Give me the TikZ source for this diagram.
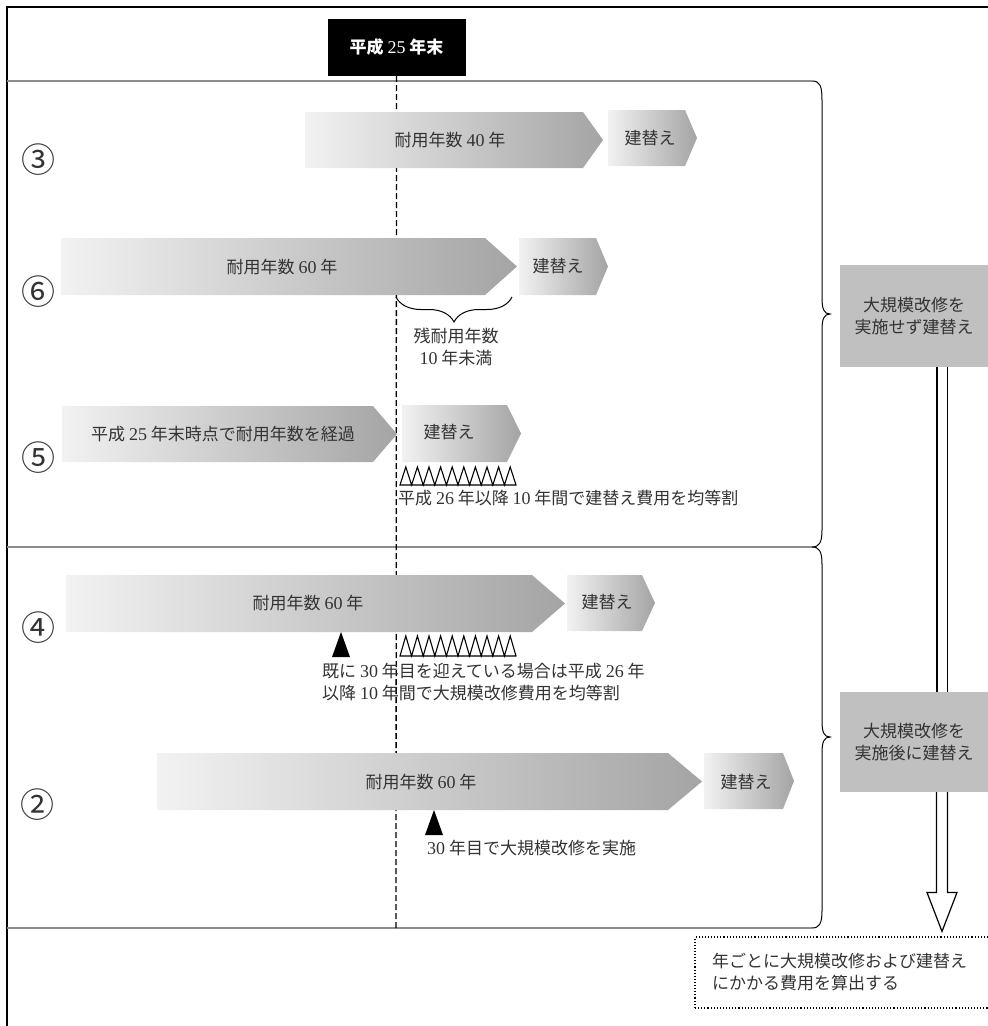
\documentclass[tikz,border=0pt]{standalone}
\usepackage{fontspec}
\newfontfamily\jpfont{Noto Sans CJK JP}
\newfontfamily\numfont{Liberation Serif}
\usepackage{xcolor}
\usepackage{tikz}
\usetikzlibrary{calc, decorations.pathreplacing}

\definecolor{barLight}{HTML}{F2F2F2}
\definecolor{barDark}{HTML}{A4A4A4}
\definecolor{ruleGray}{HTML}{8C8C8C}
\definecolor{boxGray}{HTML}{C0C0C0}
\definecolor{inkGray}{HTML}{333333}

\newcommand{\yrs}[1]{{\numfont\fontsize{18}{22}\selectfont #1}}

\begin{document}
\begin{tikzpicture}[
    x=1pt, y=-1pt,
    font=\jpfont\fontsize{17}{22}\selectfont,
    bar/.style={left color=barLight, right color=barDark},
    frame/.style={draw=black, line width=2pt},
    sectline/.style={draw=ruleGray, line width=1.4pt},
    sectbrace/.style={draw=black, line width=1pt},
    timeline/.style={draw=black, line width=1.3pt, dash pattern=on 6pt off 3pt},
    label/.style={text=inkGray, inner sep=0pt},
    casenum/.style={text=inkGray, inner sep=0pt, font=\jpfont\fontsize{34}{34}\selectfont},
    note/.style={label, anchor=west, align=left},
    zigzag/.style={draw=black, line width=1.1pt, fill=white},
    graybox/.style={fill=boxGray, text=inkGray, align=center, inner sep=0pt,
        minimum width=148pt},
    shaft/.style={draw=black, line width=1.2pt, double=white, double distance=9pt},
    flowline/.style={draw=black, line width=1.2pt, fill=white}
]
    \useasboundingbox (0,0) rectangle (988,1026);

    % --- Frame and sections ---
    \draw[frame] (7,1032) -- (7,7) -- (994,7);
    \draw[sectline] (7,81) -- (812,81);
    \draw[sectline] (7,547) -- (812,547);
    \draw[sectline] (7,928) -- (812,928);
    \draw[sectbrace] (812,81) .. controls (820,81) and (822,86) .. (822,100)
        -- (822,298) .. controls (822,309) and (824,314) .. (830,314)
        .. controls (824,314) and (822,319) .. (822,330)
        -- (822,530) .. controls (822,543) and (819,547) .. (812,547);
    \draw[sectbrace] (812,547) .. controls (819,547) and (822,551) .. (822,564)
        -- (822,721) .. controls (822,732) and (824,737) .. (830,737)
        .. controls (824,737) and (822,742) .. (822,753)
        -- (822,911) .. controls (822,924) and (819,928) .. (812,928);

    % --- Header and time line ---
    \node[fill=black, text=white, minimum width=138pt, minimum height=57pt, inner sep=0pt,
        font=\jpfont\bfseries\fontsize{17}{22}\selectfont] (hdr) at (396.5,47.5)
        {平成 {\mdseries\yrs{25}} 年末};
    \coordinate (timeEnd) at (396,928);
    \draw[timeline] (hdr.south) -- (timeEnd);

    % --- Case 3 ---
    \node[casenum] (c3) at (38,160) {③};
    \shade[bar] (305,112) -- (583,112) -- (603,140) -- (583,168) -- (305,168) -- cycle;
    \node[label] (life3) at (450,140) {耐用年数 \yrs{40} 年};
    \shade[bar] (608,110) -- (685,110) -- (697,138) -- (685,166) -- (608,166) -- cycle;
    \node[label] (rep3) at (650,138) {建替え};

    % --- Case 6 ---
    \node[casenum] (c6) at (38,292) {⑥};
    \shade[bar] (61,238) -- (485,238) -- (517,266.5) -- (485,295) -- (61,295) -- cycle;
    \node[label] (life6) at (282,267) {耐用年数 \yrs{60} 年};
    \shade[bar] (519,238) -- (596,238) -- (608,266.5) -- (596,295) -- (519,295) -- cycle;
    \node[label] (rep6) at (558,266) {建替え};
    \draw[sectbrace, decorate, decoration={brace, mirror, amplitude=25pt}] (396,297) -- (512,297);
    \node[label, align=center] (remain6) at (456,346.5) {残耐用年数\\\yrs{10} 年未満};

    % --- Case 5 ---
    \node[casenum] (c5) at (38,458) {⑤};
    \shade[bar] (62,406) -- (373,406) -- (397,434) -- (373,462) -- (62,462) -- cycle;
    \node[label] (lapse5) at (223,434) {平成 \yrs{25} 年末時点で耐用年数を経過};
    \shade[bar] (402,405) -- (507,405) -- (521,433.5) -- (507,462) -- (402,462) -- cycle;
    \node[label] (rep5) at (449,432) {建替え};
    \draw[zigzag] (400,485) \foreach \i in {0,...,9} {
        -- ({400+11.6*\i+5.8},467) -- ({400+11.6*(\i+1)},485) } -- cycle;
    \node[note] (split5) at (398,498) {平成 \yrs{26} 年以降 \yrs{10} 年間で建替え費用を均等割};

    % --- Case 4 ---
    \node[casenum] (c4) at (38,628) {④};
    \shade[bar] (66,575) -- (532,575) -- (565,603.5) -- (532,632) -- (66,632) -- cycle;
    \node[label] (life4) at (308,603) {耐用年数 \yrs{60} 年};
    \shade[bar] (567,575) -- (642,575) -- (655,603) -- (642,631) -- (567,631) -- cycle;
    \node[label] (rep4) at (607,602) {建替え};
    \fill (332,657) -- (341,632) -- (350,657) -- cycle;
    \draw[zigzag] (400,656) \foreach \i in {0,...,9} {
        -- ({400+11.6*\i+5.8},636) -- ({400+11.6*(\i+1)},656) } -- cycle;
    \node[note] (split4) at (322,682)
        {既に \yrs{30} 年目を迎えている場合は平成 \yrs{26} 年\\以降 \yrs{10} 年間で大規模改修費用を均等割};

    % --- Case 2 ---
    \node[casenum] (c2) at (37,805) {②};
    \shade[bar] (157,753) -- (668,753) -- (702,781.5) -- (668,810) -- (157,810) -- cycle;
    \node[label] (life2) at (421,782) {耐用年数 \yrs{60} 年};
    \shade[bar] (704,753) -- (783,753) -- (794,781) -- (783,809) -- (704,809) -- cycle;
    \node[label] (rep2) at (746,782) {建替え};
    \fill (425,835) -- (434,810) -- (443,835) -- cycle;
    \node[note] (reno2) at (427,848) {\yrs{30} 年目で大規模改修を実施};

    % --- Outcome boxes ---
    \node[graybox, minimum height=102pt] (noReno) at (914,316) {大規模改修を\\実施せず建替え};
    \node[graybox, minimum height=100pt] (withReno) at (914,742) {大規模改修を\\実施後に建替え};
    \node[draw=black, dotted, line width=1.1pt, minimum width=297pt, minimum height=71pt,
        text width=263pt, inner xsep=17pt, align=left, text=inkGray] (calcBox) at (843.5,972.5)
        {年ごとに大規模改修および建替え\\にかかる費用を算出する};

    % --- Flow arrow ---
    \path (noReno.south) ++(28,0) coordinate (shaftTop);
    \path (withReno.north) ++(28,0) coordinate (shaftMid);
    \path (withReno.south) ++(28,0) coordinate (shaftLow);
    \path (calcBox.north) ++(98.5,-5) coordinate (arrowTip);
    \draw[shaft] (shaftTop) -- (shaftMid);
    \draw[flowline] ($(shaftLow)+(-5.5,0)$) -- ($(arrowTip)+(-5.5,-39)$) -- ($(arrowTip)+(-15,-39)$)
        -- (arrowTip) -- ($(arrowTip)+(15,-39)$) -- ($(arrowTip)+(5.5,-39)$) -- ($(shaftLow)+(5.5,0)$);
\end{tikzpicture}
\end{document}
